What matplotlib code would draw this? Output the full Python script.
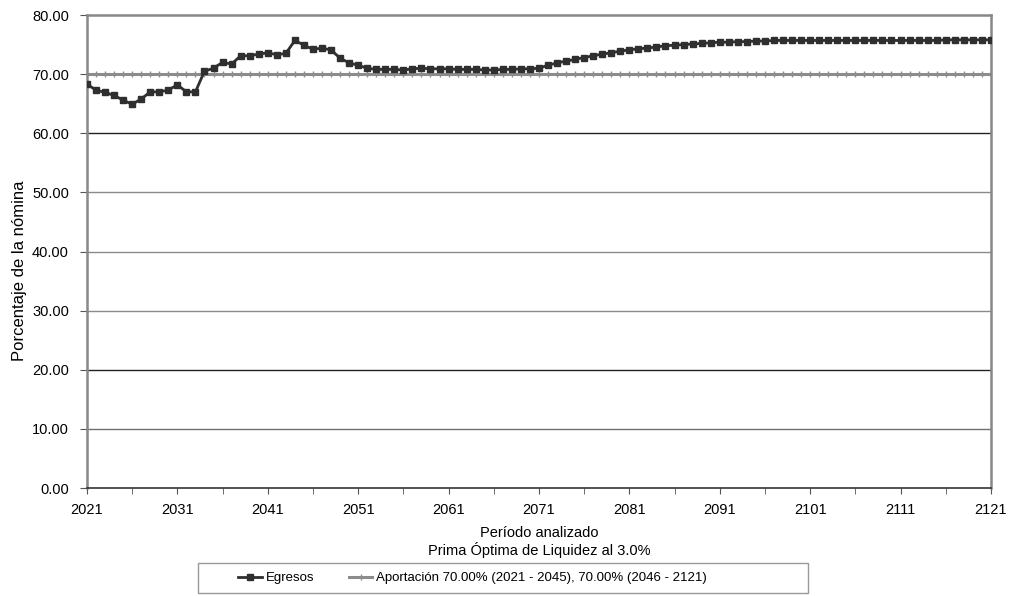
import numpy as np
import matplotlib.pyplot as plt
from matplotlib.patches import Rectangle

plt.rcParams['font.family'] = ['Liberation Sans', 'DejaVu Sans']

years = list(range(2021, 2122))

egresos = [
    68.3, 67.3, 66.9, 66.4, 65.6, 64.9, 65.8, 67.0, 67.0, 67.3,   # 2021-2030
    68.2, 67.0, 67.0, 70.5, 71.0, 72.0, 71.7, 73.1, 73.1, 73.4,   # 2031-2040
    73.6, 73.3, 73.5, 75.7, 74.9, 74.2, 74.4, 74.1, 72.7, 71.9,   # 2041-2050
    71.5, 71.0, 70.8, 70.8, 70.8, 70.7, 70.9, 71.0, 70.9, 70.9,   # 2051-2060
    70.9, 70.8, 70.8, 70.8, 70.7, 70.7, 70.8, 70.8, 70.9, 70.9,   # 2061-2070
    71.0, 71.5, 71.9, 72.2, 72.5, 72.8, 73.1, 73.4, 73.6, 73.9,   # 2071-2080
    74.1, 74.3, 74.4, 74.6, 74.8, 74.9, 75.0, 75.1, 75.2, 75.3,   # 2081-2090
    75.4, 75.4, 75.5, 75.5, 75.6, 75.6, 75.7, 75.7, 75.7, 75.7,   # 2091-2100
    75.7, 75.7, 75.7, 75.7, 75.7, 75.7, 75.7, 75.7, 75.7, 75.7,   # 2101-2110
    75.7, 75.7, 75.7, 75.7, 75.7, 75.8, 75.8, 75.8, 75.8, 75.8,   # 2111-2120
    75.8,                                                          # 2121
]
aportacion = [70.0] * len(years)

xticks = list(range(2021, 2122, 10))
xminor = list(range(2026, 2122, 10))
yticks = [0, 10, 20, 30, 40, 50, 60, 70, 80]

fig = plt.figure(figsize=(10.1, 5.96), dpi=100)
ax = fig.add_axes([0.0861, 0.1812, 0.8950, 0.7936])

# grid (scan makes some lines darker than others)
grid_col = {10: '#707070', 20: '#222222', 30: '#8a8a8a', 40: '#8a8a8a',
            50: '#8a8a8a', 60: '#222222'}
for v, c in grid_col.items():
    ax.axhline(v, color=c, lw=1.0, zorder=1)

ax.plot(years, aportacion, color='#8c8c8c', lw=2.2, marker='|', ms=4,
        mew=1.0, zorder=2,
        label='Aportación 70.00% (2021 - 2045), 70.00% (2046 - 2121)')
ax.plot(years, egresos, color='#2f2f2f', lw=2.0, marker='s', ms=4,
        zorder=3, label='Egresos')

ax.set_xlim(2021, 2121)
ax.set_ylim(0, 80)
ax.set_xticks(xticks)
ax.set_xticks(xminor, minor=True)
ax.set_yticks(yticks)
ax.set_yticklabels([f'{v:.2f}' for v in yticks])
ax.tick_params(axis='y', labelsize=10.5, length=5, color='#555555', pad=8)
ax.tick_params(axis='x', labelsize=10.5, length=4, color='#555555', pad=7)
ax.tick_params(axis='x', which='minor', length=4, color='#555555')

for s in ['top', 'right', 'left']:
    ax.spines[s].set_color('#888888')
    ax.spines[s].set_linewidth(1.8)
ax.spines['bottom'].set_color('#333333')
ax.spines['bottom'].set_linewidth(1.2)

ax.set_ylabel('Porcentaje de la nómina', fontsize=12)
ax.yaxis.set_label_coords(-0.066, 0.46)
ax.set_xlabel('Período analizado\nPrima Óptima de Liquidez al 3.0%',
              fontsize=10.5, labelpad=6, linespacing=1.15)

h, l = ax.get_legend_handles_labels()
leg = fig.legend(h[::-1], l[::-1], loc='center', ncol=2,
                 bbox_to_anchor=(0.468, 0.030), fontsize=9.5,
                 frameon=False, handlelength=1.8, handletextpad=0.3,
                 columnspacing=2.6)
fig.patches.append(Rectangle((198 / 1010, 3 / 596), 610 / 1010, 30 / 596,
                             transform=fig.transFigure, fill=False,
                             edgecolor='#999999', lw=1.0))

fig.savefig('out.png', dpi=100)
